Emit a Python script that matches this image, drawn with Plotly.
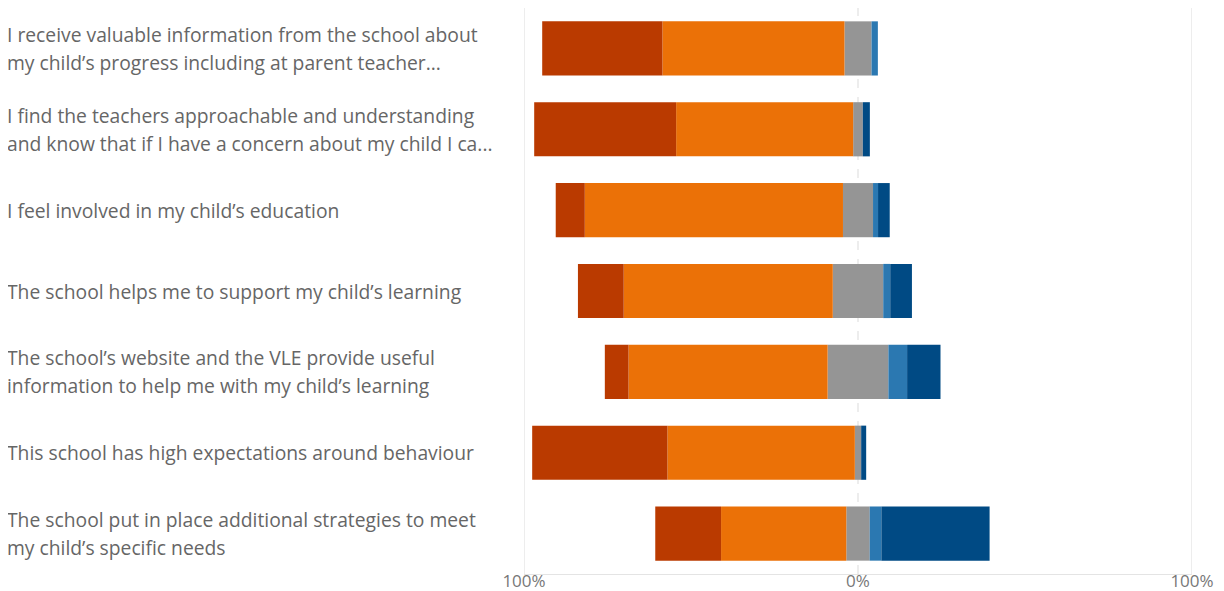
import plotly.graph_objects as go

# ---- data ----
label_lines = [
    ["I receive valuable information from the school about", "my child\u2019s progress including at parent teacher..."],
    ["I find the teachers approachable and understanding", "and know that if I have a concern about my child I ca..."],
    ["I feel involved in my child\u2019s education"],
    ["The school helps me to support my child\u2019s learning"],
    ["The school\u2019s website and the VLE provide useful", "information to help me with my child\u2019s learning"],
    ["This school has high expectations around behaviour"],
    ["The school put in place additional strategies to meet", "my child\u2019s specific needs"],
]
categories = [" ".join(l) for l in label_lines]

strongly_agree = [36.0, 42.5, 8.7, 13.7, 7.1, 40.5, 19.7]
agree = [54.5, 53.0, 77.3, 62.6, 59.6, 56.1, 37.5]
neutral = [8.1, 2.9, 9.0, 15.1, 18.2, 1.9, 7.0]
disagree = [1.9, 0.0, 1.5, 2.1, 5.6, 0.0, 3.5]
strongly_disagree = [0.0, 2.1, 3.5, 6.5, 10.0, 1.5, 32.4]

tick_vals = [-100, 0, 100]
tick_text = ["100%", "0%", "100%"]

# ---- colours ----
C_SA = "#BA3A00"
C_A = "#EB7107"
C_N = "#959595"
C_D = "#2B78B1"
C_SD = "#004A84"

fig = go.Figure()

def add(name, vals, color, sign, show=True):
    fig.add_trace(go.Bar(
        y=categories, x=[sign * v for v in vals], orientation="h",
        name=name, marker=dict(color=color, line=dict(width=0)),
        showlegend=show,
        customdata=vals,
        hovertemplate="%{y}<br>" + name + ": %{customdata:.1f}%<extra></extra>",
    ))

half_neutral = [v / 2 for v in neutral]
add("Neutral", half_neutral, C_N, -1)
add("Agree", agree, C_A, -1)
add("Strongly agree", strongly_agree, C_SA, -1)
add("Neutral", half_neutral, C_N, 1, show=False)
add("Disagree", disagree, C_D, 1)
add("Strongly disagree", strongly_disagree, C_SD, 1)

# gridlines (solid at ends, dashed at zero)
for v in tick_vals:
    fig.add_shape(type="line", xref="x", yref="paper", x0=v, x1=v, y0=0, y1=1,
                  line=dict(color="#E4E4E4", width=1.3, dash="dash" if v == 0 else "solid"),
                  layer="below")

# left-aligned category labels
LH = 28
for cat, lines in zip(categories, label_lines):
    n = len(lines)
    for i, t in enumerate(lines):
        off = (n - 1) / 2 * LH - i * LH
        fig.add_annotation(x=0, xref="paper", xanchor="left", y=cat, yref="y",
                           yshift=off, text=t, showarrow=False,
                           font=dict(family="Open Sans", size=19.3, color="#666666"),
                           xshift=-519)

fig.update_layout(
    width=1216, height=583,
    barmode="relative", bargap=0.33,
    plot_bgcolor="white", paper_bgcolor="white",
    margin=dict(l=516, r=32, t=0, b=17, autoexpand=False),
    showlegend=False,
    xaxis=dict(range=[-100, 100], tickvals=tick_vals, ticktext=tick_text,
               showgrid=False, zeroline=False, showline=True, linecolor="#E4E4E4",
               linewidth=1.3, ticks="", automargin=False, ticklabelstandoff=-9,
               tickfont=dict(family="Open Sans", size=17, color="#777777")),
    yaxis=dict(categoryorder="array", categoryarray=categories, autorange="reversed",
               showticklabels=False, showgrid=False, zeroline=False, automargin=False),
)

fig.write_html("out.html")
